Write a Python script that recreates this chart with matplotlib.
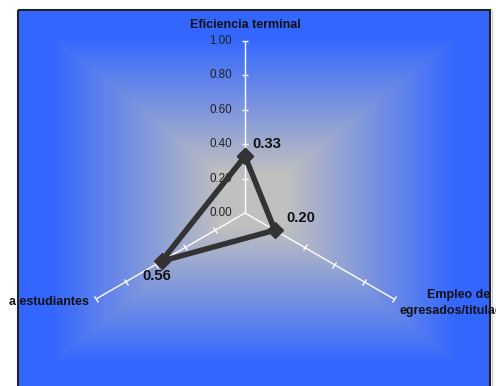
import numpy as np
import matplotlib
matplotlib.use("Agg")
import matplotlib.pyplot as plt
from matplotlib.markers import MarkerStyle
from matplotlib.transforms import Affine2D
from matplotlib.patches import Rectangle

plt.rcParams['font.family'] = ['Liberation Sans', 'DejaVu Sans']

# Radar data
categories = ["Eficiencia terminal", "Empleo de\negresados/titulados", "a estudiantes"]
values = [0.33, 0.20, 0.56]
r_ticks = [0.0, 0.2, 0.4, 0.6, 0.8, 1.0]
r_tick_labels = ["0.00", "0.20", "0.40", "0.60", "0.80", "1.00"]

W, H = 496, 386
fig = plt.figure(figsize=(W / 100, H / 100), dpi=100)

# ---- background: framed plot area with a rectangular centre-out gradient ----
bg = fig.add_axes([0, 0, 1, 1])
bg.set_xlim(0, W)
bg.set_ylim(H, 0)
bg.axis("off")

fx0, fx1, fy0, fy1 = 18, 490, 10, 390
cx, cy = (fx0 + fx1) / 2, 200
hw, hh = 236, 190
yy, xx = np.mgrid[0:H, 0:W] + 0.5
u = np.maximum(np.abs(xx - cx) / hw, np.abs(yy - cy) / hh)
f = np.clip((u - 0.14) / 0.72, 0, 1)[..., None]
gray = np.array([0xC0, 0xC0, 0xC0]) / 255
blue = np.array([0x33, 0x66, 0xFF]) / 255
img = gray * (1 - f) + blue * f
inside = (xx >= fx0) & (xx <= fx1) & (yy >= fy0)
img[~inside] = 1.0
bg.imshow(img, extent=(0, W, H, 0), interpolation="bilinear", zorder=0)
bg.add_patch(Rectangle((fx0, fy0), fx1 - fx0, fy1 - fy0, fill=False,
                       edgecolor="#222222", lw=1.5, zorder=1))
bg.plot([fx1 + 2, fx1 + 2], [fy0, H], color="#d0d0d0", lw=1, zorder=1)

# ---- radar axes ----
R = 172
pcx, pcy = 245, 213
ax = fig.add_axes([(pcx - R) / W, (H - pcy - R) / H, 2 * R / W, 2 * R / H],
                  projection="polar")
ax.patch.set_alpha(0)
ax.set_theta_zero_location("N")
ax.set_theta_direction(-1)
ax.set_ylim(0, 1)
ax.spines["polar"].set_visible(False)

n = len(categories)
angles = np.arange(n) * 2 * np.pi / n
ax.set_xticks(angles)
ax.set_xticklabels([])
ax.set_yticks([])
ax.tick_params(length=0)
ax.xaxis.grid(True, color="white", lw=1)
ax.yaxis.grid(False)

# tick marks along each spoke
for a in angles:
    rot = 180 - np.degrees(a)
    mk = MarkerStyle("_", transform=Affine2D().rotate_deg(rot))
    ax.plot([a] * (len(r_ticks) - 1), r_ticks[1:], linestyle="none",
            marker=mk, ms=4.5, mew=1, color="white", clip_on=False, zorder=2)

# radial value labels on the vertical spoke
for r, lab in zip(r_ticks, r_tick_labels):
    ax.annotate(lab, (0, r), xytext=(-13, 0), textcoords="offset pixels",
                ha="right", va="center", fontsize=8.4, color="#222222",
                zorder=3, annotation_clip=False)

# category labels
label_offsets = [(0, 16), (65, -4), (-7, -3)]
label_align = ["center", "center", "right"]
for a, name, off, ha in zip(angles, categories, label_offsets, label_align):
    ax.annotate(name, (a, 1.0), xytext=off, textcoords="offset pixels",
                ha=ha, va="center", fontsize=9, fontweight="bold",
                color="#111111", multialignment="center", linespacing=1.4,
                annotation_clip=False)

# data polygon
theta = np.concatenate([angles, angles[:1]])
vals = values + values[:1]
ax.plot(theta, vals, color="#333333", lw=4, marker="D", ms=8,
        mfc="#333333", mec="#333333", zorder=5, clip_on=False)

# value labels
value_offsets = [(7, 12), (12, 12), (-5, -15)]
value_align = ["left", "left", "center"]
for a, v, off, ha in zip(angles, values, value_offsets, value_align):
    ax.annotate(f"{v:.2f}", (a, v), xytext=off, textcoords="offset pixels",
                ha=ha, va="center", fontsize=10.7, fontweight="bold",
                color="#111111", zorder=6, annotation_clip=False)

fig.savefig("out.png", dpi=100)
